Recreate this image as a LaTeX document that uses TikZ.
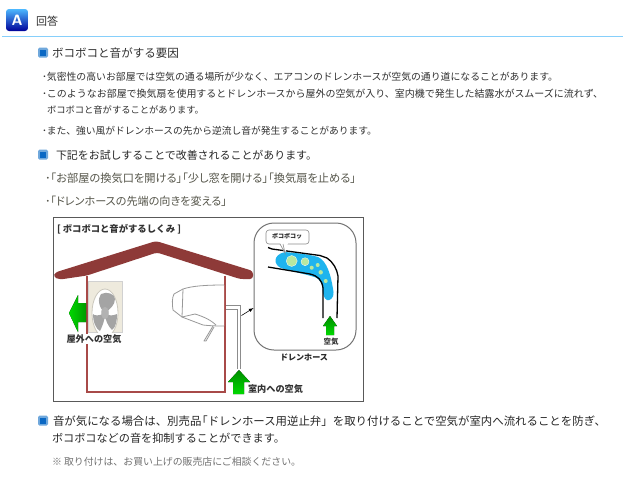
\documentclass[tikz,border=0pt]{standalone}
\usepackage{fontspec}
\setmainfont{Noto Sans CJK JP}
\newfontfamily\paltfont[RawFeature=+palt]{Noto Sans CJK JP}
\usetikzlibrary{shadings}
\definecolor{txt}{HTML}{303030}
\definecolor{txtB}{HTML}{262626}
\definecolor{txtO}{HTML}{55554A}
\definecolor{txtL}{HTML}{707070}
\definecolor{roof}{HTML}{8E3A38}
\definecolor{wall}{HTML}{A84A48}
\definecolor{rule}{HTML}{86CFFB}
\definecolor{water}{HTML}{1FB4EE}
\definecolor{bub}{HTML}{B8E8A0}
\definecolor{unit}{HTML}{EEEADD}
\definecolor{fan}{HTML}{A4A4A4}
\tikzset{
  txtnode/.style={anchor=west,inner sep=0pt,outer sep=0pt,text=txt},
  lab/.style={anchor=center,inner sep=0.5pt,text=black!80},
  gradarrow/.style={draw=none,top color=#1,bottom color=green!85!black},
  ductline/.style={draw=black!45,line width=0.8pt},
  hose/.style={draw=black,line width=1.3pt,line join=round},
  unitline/.style={draw=black!40,line width=0.8pt,line join=round},
  fanblade/.style={fill=fan}
}
\newcommand{\fitw}[3]{\resizebox{#1pt}{!}{\fontsize{#2}{#2}\selectfont #3}}
\newcommand{\squarebullet}[2]{%
  \fill[rounded corners=1.5pt,fill={rgb,255:red,112;green,168;blue,220}] (#1-5,#2-5) rectangle (#1+5,#2+5);
  \fill[fill={rgb,255:red,10;green,104;blue,196}] (#1-3,#2-3) rectangle (#1+3,#2+3);
}
\begin{document}
\begin{tikzpicture}[x=1pt,y=-1pt]
\useasboundingbox (0,0) rectangle (623,480);
\fill[white] (0,0) rectangle (623,480);

% header
\node[rounded corners=3pt,minimum width=22pt,minimum height=22pt,inner sep=0pt,top color=blue!40!cyan!70!white,bottom color=blue!60!black,text=white,font=\fontsize{15}{15}\selectfont\bfseries\sffamily] (aicon) at (17,20) {A};
\node[txtnode] (title) at (36,21) {\fitw{22}{10}{回答}};
\draw[rule,line width=1.4pt] (2,36.5) -- (623,36.5);

% text
\squarebullet{43}{52.5}
\node[txtnode] (h1) at (52,53) {\fitw{127}{11.5}{ボコボコと音がする要因}};
\node[txtnode] (l1) at (42,76.5) {\fitw{516}{10}{･気密性の高いお部屋では空気の通る場所が少なく、エアコンのドレンホースが空気の通り道になることがあります。}};
\node[txtnode] (l2) at (42,94) {\fitw{561}{10}{･このようなお部屋で換気扇を使用するとドレンホースから屋外の空気が入り、室内機で発生した結露水がスムーズに流れず、}};
\node[txtnode] (l3) at (47,110) {\fitw{157}{10}{ボコボコと音がすることがあります。}};
\node[txtnode] (l4) at (42,131) {\fitw{335}{10}{･また、強い風がドレンホースの先から逆流し音が発生することがあります。}};
\squarebullet{43}{154.5}
\node[txtnode,text=txtB] (h2) at (56,155) {\fitw{261}{11.5}{下記をお試しすることで改善されることがあります。}};
\node[txtnode,text=txtO] (l5) at (45,178) {\fitw{311}{10}{\paltfont ･「お部屋の換気口を開ける」「少し窓を開ける」「換気扇を止める」}};
\node[txtnode,text=txtO] (l6) at (45,201) {\fitw{182}{10}{\paltfont ･「ドレンホースの先端の向きを変える」}};
\squarebullet{43}{420.5}
\node[txtnode,text=txtB] (l7) at (53,421) {\fitw{553}{11.5}{音が気になる場合は、別売品\hspace{-0.45em}「ドレンホース用逆止弁」を取り付けることで空気が室内へ流れることを防ぎ、}};
\node[txtnode,text=txtB] (l8) at (52,438) {\fitw{233}{11.5}{ボコボコなどの音を抑制することができます。}};
\node[txtnode,text=txtL] (l9) at (52,461.5) {\fitw{249}{10}{※ 取り付けは、お買い上げの販売店にご相談ください。}};

% figure frame
\draw[black!65,line width=1pt] (53.5,217.5) rectangle (363.5,401.5);
\node[txtnode,text=black!80] (figtitle) at (57,229) {\fitw{124}{9}{\bfseries [ ボコボコと音がするしくみ ]}};

% outdoor unit
\fill[unit,draw=black!18,line width=0.5pt] (88,281) rectangle (122,332);
\begin{scope}
  \clip (86,281) rectangle (123,332);
  \fill[white,draw=unit!85!black,line width=0.8pt] (105,313) ellipse (13 and 24);
  \fill[fanblade] (105,313) .. controls (99,308) and (97,299) .. (101,294) .. controls (107,291) and (115,294) .. (115,299) .. controls (115,305) and (110,309) .. (105,313) -- cycle;
  \fill[fanblade] (105,313) .. controls (100,316) and (94,316) .. (93,314) .. controls (93,322) and (96,329) .. (100,331) .. controls (103,325) and (105,319) .. (105,313) -- cycle;
  \fill[fanblade] (105,313) .. controls (105,320) and (108,326) .. (112,330) .. controls (116,327) and (117,321) .. (117,314) .. controls (113,316) and (108,316) .. (105,313) -- cycle;
  \draw[black!30,fill=fan!85] (105,313) ellipse (3.5 and 6);
\end{scope}

% wall
\draw[wall,line width=1.2pt] (87,276) -- (87,392) -- (225,392) -- (225,276);

% roof
\fill[roof,rounded corners=3pt] (55,272.5) -- (156,241) -- (253,271) -- (253,279) -- (240,279) -- (157,252.5) -- (87,275.5) -- (60,279.5) -- (53.5,277) -- cycle;

% indoor unit
\draw[unitline,fill=white] (224,285) .. controls (205,285) and (192,286) .. (183,289) -- (174,294) .. controls (172,298) and (172,304) .. (173,310) -- (182,317) -- (203,325) .. controls (212,326) and (220,326) .. (224,326);
\draw[unitline] (183,289) -- (182,317) -- (195,314) .. controls (205,317) and (212,321) .. (216,325);
\draw[unitline] (213,326) -- (204,341) -- (206,341) -- (214,327);

% duct
\draw[ductline] (226,305.5) -- (240,305.5) -- (240,369);
\draw[ductline] (226,309) -- (237,309) -- (237,369);

% left arrow
\fill[left color=green!85!black,right color=green!60!black] (69,313) -- (78,295) -- (78,303) -- (86,303) -- (86,322) -- (78,322) -- (78,332) -- cycle;
\node[lab,fill=white] (outair) at (94,339) {\fitw{55}{8}{\bfseries 屋外への空気}};

% up arrow
\fill[gradarrow=green!55!black] (239,370) -- (250,382) -- (244,382) -- (244,394) -- (233,394) -- (233,382) -- (228,382) -- cycle;
\node[txtnode,text=black!80] (inair) at (248,389) {\fitw{55}{8}{\bfseries 室内への空気}};

% detail
\node[draw=black!55,line width=1pt,rounded corners=20pt,minimum width=102pt,minimum height=127pt,inner sep=0pt,fill=white] (detail) at (305,286.5) {};
\coordinate (ptrstart) at (241.5,315.5);
\draw[black,line width=0.6pt,-latex] (ptrstart) -- (detail.west |- 0,308);

\fill[water] (285,252) .. controls (295,253) and (308,254) .. (318,257) .. controls (327,261) and (331,275) .. (333.5,292) .. controls (334,299) and (329,301) .. (327,300) .. controls (324,299) and (322.5,293) .. (322.5,288) .. controls (322,283) and (320,280) .. (316,277.5) .. controls (305,274) and (290,271) .. (281,268) .. controls (274,265) and (272,255) .. (285,252) -- cycle;
\fill[bub,draw=white,line width=0.3pt] (291.7,261) circle (5.5);
\fill[bub,draw=white,line width=0.3pt] (305,261.7) circle (4);
\fill[bub] (311.7,267.7) circle (2);
\fill[bub] (317.7,265) circle (2);
\fill[bub] (320.7,272.3) circle (2.2);
\fill[bub] (325.7,281) circle (2);
\draw[hose] (268,247.5) -- (272,249) -- (320,255.5) -- (327,258) .. controls (333,262) and (337,269) .. (338,276) -- (337,318);
\draw[hose] (268,267) -- (310,274) .. controls (318,276) and (322,280) .. (323,288) -- (323,318);

\fill[white,draw=black!45,line width=0.6pt,rounded corners=3pt] (266,230) rectangle (309,244);
\fill[white] (280,243) -- (285,253) -- (288,243) -- cycle;
\draw[black!45,line width=0.6pt] (280,244) -- (285,253) -- (283,244);
\node[inner sep=0pt,text=black!85] (pop) at (287,236.5) {\fitw{30}{6.5}{\bfseries ボコボコッ}};

\fill[gradarrow=green!55!black] (330,316) -- (337,326) -- (334,326) -- (334,335) -- (326,335) -- (326,326) -- (323,326) -- cycle;
\node[inner sep=0pt,text=black!80] (air) at (331,342) {\fitw{15}{7.5}{\bfseries 空気}};
\node[inner sep=0pt,text=black!85] (hosename) at (304,357) {\fitw{48}{8}{\bfseries ドレンホース}};
\end{tikzpicture}
\end{document}
